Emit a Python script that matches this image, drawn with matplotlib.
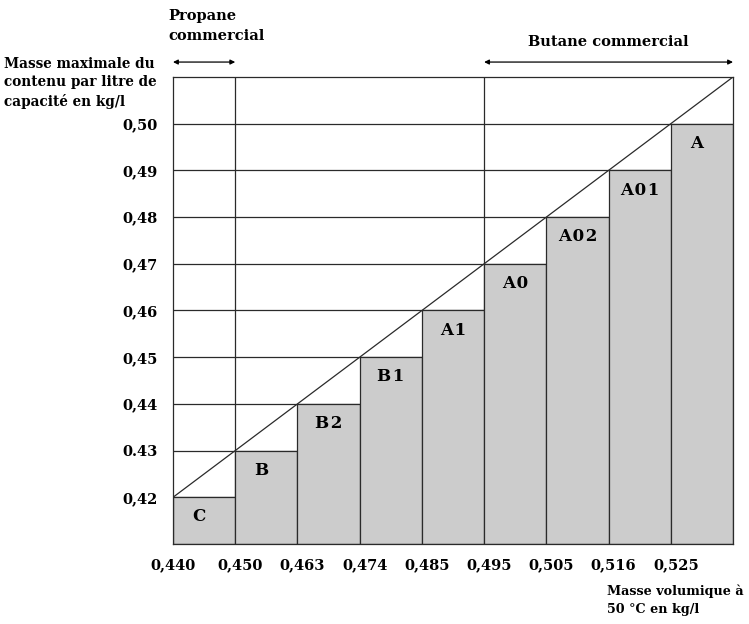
import matplotlib
matplotlib.use("Agg")
import matplotlib.pyplot as plt

# Data
density_labels = ['0,440', '0,450', '0,463', '0,474', '0,485',
                  '0,495', '0,505', '0,516', '0,525']
classes = ['C', 'B', 'B2', 'B1', 'A1', 'A0', 'A02', 'A01', 'A']
max_mass = [0.42, 0.43, 0.44, 0.45, 0.46, 0.47, 0.48, 0.49, 0.50]
y_ticks = [0.42, 0.43, 0.44, 0.45, 0.46, 0.47, 0.48, 0.49, 0.50]
y_tick_labels = ['0,42', '0.43', '0,44', '0,45', '0,46',
                 '0,47', '0,48', '0,49', '0,50']
y_min, y_max = 0.41, 0.51
propane_range = (0, 1)   # column boundaries
butane_range = (5, 9)

FONT = 'DejaVu Serif'
LINE = '#2a2a2a'
n = len(classes)

fig = plt.figure(figsize=(7.49, 6.24), dpi=100)
ax = fig.add_axes([173 / 749, 1 - 544 / 624, 560 / 749, 467 / 624])

# horizontal grid lines behind the bars
for y in y_ticks:
    ax.axhline(y, color=LINE, lw=0.9, zorder=1)

# full-height separators for propane / butane zones
ax.axvline(propane_range[1], color=LINE, lw=0.9, zorder=1)
ax.axvline(butane_range[0], color=LINE, lw=0.9, zorder=1)

# staircase bars
ax.bar(range(n), [m - y_min for m in max_mass], bottom=y_min, width=1.0,
       align='edge', color='#cccccc', edgecolor=LINE, linewidth=0.9, zorder=2)

# diagonal through the top-left corners
ax.plot(list(range(n)) + [n], max_mass + [y_max], color=LINE, lw=0.9, zorder=3)

# class names, letters spaced out a little like the original
for i, (name, m) in enumerate(zip(classes, max_mass)):
    label = '\u200a'.join(name)
    xc = i + 0.5 if len(name) > 1 else i + 0.42
    ax.text(xc, m - 0.0042, label, ha='center', va='center',
            family=FONT, weight='bold', fontsize=12, zorder=4)

ax.set_xlim(0, n)
ax.set_ylim(y_min, y_max)

ax.set_xticks([0] + [i + 0.08 for i in range(1, n)])
ax.set_xticklabels(density_labels, family=FONT, weight='bold', fontsize=10.5)
ax.set_yticks(y_ticks)
ax.set_yticklabels(y_tick_labels, family=FONT, weight='bold', fontsize=10.5)
ax.tick_params(axis='x', length=0, pad=10)
ax.tick_params(axis='y', length=0, pad=11)
for s in ax.spines.values():
    s.set_color(LINE)
    s.set_linewidth(0.9)

# zone arrows
arrow = dict(arrowstyle='<|-|>', color='black', lw=0.9, mutation_scale=7,
             shrinkA=0, shrinkB=0)
ax.annotate('', xy=(propane_range[0], 1.032), xytext=(propane_range[1], 1.032),
            xycoords=('data', 'axes fraction'), textcoords=('data', 'axes fraction'),
            arrowprops=arrow, annotation_clip=False)
ax.annotate('', xy=(butane_range[0], 1.032), xytext=(butane_range[1], 1.032),
            xycoords=('data', 'axes fraction'), textcoords=('data', 'axes fraction'),
            arrowprops=arrow, annotation_clip=False)
ax.text(sum(butane_range) / 2, 1.075, 'Butane commercial', ha='center', va='center',
        transform=ax.get_xaxis_transform(), family=FONT, weight='bold', fontsize=10.5)

fig.text(168 / 749, 1 - 9 / 624, 'Propane\ncommercial', ha='left', va='top',
         family=FONT, weight='bold', fontsize=10.5, linespacing=1.5)
fig.text(4 / 749, 1 - 57 / 624, 'Masse maximale du\ncontenu par litre de\ncapacité en kg/l',
         ha='left', va='top', family=FONT, weight='bold', fontsize=9.8, linespacing=1.4)
fig.text(607 / 749, 1 - 585 / 624, 'Masse volumique à\n50 °C en kg/l',
         ha='left', va='top', family=FONT, weight='bold', fontsize=9.2, linespacing=1.5)

fig.savefig('out.png', dpi=100)
